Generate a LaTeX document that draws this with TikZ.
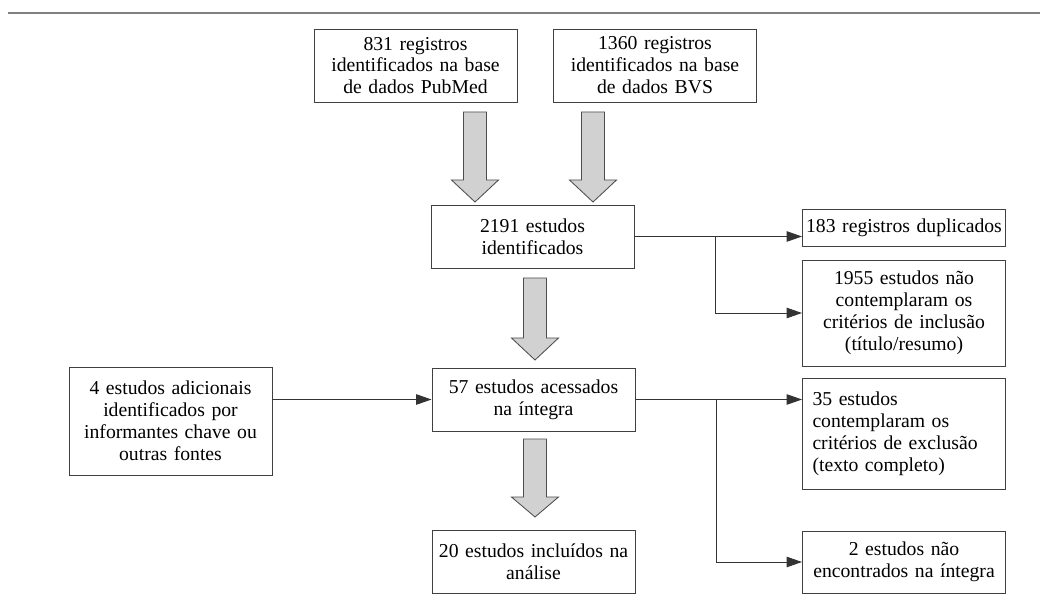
\documentclass[tikz,border=0pt]{standalone}
\usepackage{fontspec}
\setmainfont{Liberation Serif}
\usetikzlibrary{arrows.meta}

\begin{document}
\begin{tikzpicture}[x=0.025cm, y=-0.025cm,
  flowbox/.style={draw=black!75, line width=0.7pt, inner sep=0pt,
    minimum width=203*0.025cm, text width=200*0.025cm, align=center,
    font=\fontsize{14}{15.6}\selectfont},
  link/.style={draw=black!80, line width=0.7pt, -{Triangle[length=11pt, width=7.5pt]}},
  bigarrow/.style={fill=black!18, draw=black!70, line width=0.6pt, line join=miter}]
\def\shaft{11.5}
\def\head{23.5}

% Page frame and the rule on top
\useasboundingbox (0,0) rectangle (1040,616);
\draw[black!50, line width=1.2pt] (8,13) -- (1040,13);

% Database searches
\node[flowbox, minimum height=73*0.025cm] (pubmed) at (415.5,65.5) {831 registros\\identificados na base\\de dados PubMed};
\node[flowbox, minimum height=73*0.025cm] (bvs) at (655,65.5) {1360 registros\\identificados na base\\de dados BVS};

% Main column
\node[flowbox, minimum height=63*0.025cm] (found) at (532.5,236.5) {2191 estudos\\identificados};
\node[flowbox, minimum height=63*0.025cm] (fulltext) at (533.5,399.5) {57 estudos acessados\\na íntegra};
\node[flowbox, minimum height=63*0.025cm] (included) at (533.5,561.5) {20 estudos incluídos na\\análise};

% Extra source on the left
\node[flowbox, minimum height=108*0.025cm] (extra) at (170.5,421) {4 estudos adicionais\\identificados por\\informantes chave ou\\outras fontes};

% Exclusions on the right
\node[flowbox, minimum height=37*0.025cm] (dupes) at (904,227.5) {183 registros duplicados};
\node[flowbox, minimum height=106*0.025cm] (screenout) at (904,313) {1955 estudos não\\contemplaram os\\critérios de inclusão\\(título/resumo)};
\node[flowbox, minimum height=111*0.025cm, text width=183*0.025cm, align=left] (fullout) at (904,433.5) {35 estudos\\contemplaram os\\critérios de exclusão\\(texto completo)};
\node[flowbox, minimum height=62*0.025cm] (notfound) at (904,562) {2 estudos não\\encontrados na íntegra};

% Grey block arrows
\draw[bigarrow] (475-\shaft,112) -- (475+\shaft,112) -- (475+\shaft,180) -- (475+\head,180) -- (475,202) -- (475-\head,180) -- (475-\shaft,180) -- cycle;
\draw[bigarrow] (593-\shaft,112) -- (593+\shaft,112) -- (593+\shaft,180) -- (593+\head,180) -- (593,202) -- (593-\head,180) -- (593-\shaft,180) -- cycle;
\draw[bigarrow] (535-\shaft,278) -- (535+\shaft,278) -- (535+\shaft,338) -- (535+\head,338) -- (535,360) -- (535-\head,338) -- (535-\shaft,338) -- cycle;
\draw[bigarrow] (535-\shaft,439) -- (535+\shaft,439) -- (535+\shaft,497) -- (535+\head,497) -- (535,517) -- (535-\head,497) -- (535-\shaft,497) -- cycle;

% Branch points
\coordinate (split1) at (715,236.5);
\coordinate (split2) at (716,399.5);

% Connectors
\draw[link] (found.east) -- (found.east -| dupes.west);
\draw[link] (split1) |- (screenout.west);
\draw[link] (extra.east |- fulltext.west) -- (fulltext.west);
\draw[link] (fulltext.east) -- (fulltext.east -| fullout.west);
\draw[link] (split2) |- (notfound.west);
\end{tikzpicture}
\end{document}
